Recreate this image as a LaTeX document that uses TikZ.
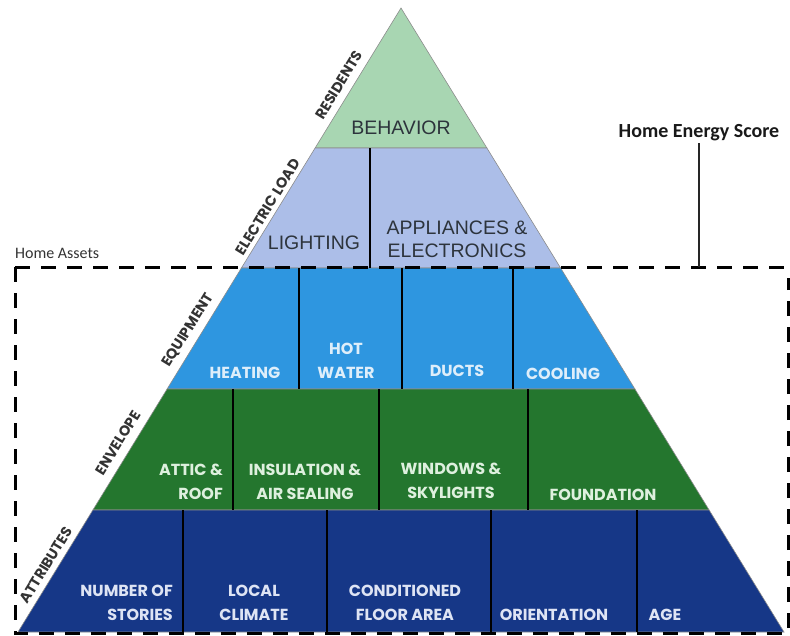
\documentclass[tikz,border=0pt]{standalone}
\usepackage{fontspec}
\setmainfont{Liberation Sans}
\newfontfamily\geofont{Poppins}
\newfontfamily\carlfont{Carlito}
\definecolor{behav}{RGB}{168,214,178}
\definecolor{elec}{RGB}{172,190,232}
\definecolor{equip}{RGB}{46,150,224}
\definecolor{envel}{RGB}{36,118,46}
\definecolor{attr}{RGB}{22,55,135}
\definecolor{equiptxt}{RGB}{222,238,250}
\definecolor{enveltxt}{RGB}{222,240,222}
\definecolor{attrtxt}{RGB}{222,228,244}
\definecolor{darktxt}{RGB}{45,52,60}
\tikzset{
  layer/.style={draw=black!45, line width=0.6pt},
  divider/.style={line width=2.4pt, black},
  dashbox/.style={line width=3pt, black, dash pattern=on 15pt off 11pt},
  toptxt/.style={font=\fontsize{19.5}{22.5}\selectfont, text=darktxt, inner sep=0pt, align=center},
  lbl/.style={font=\geofont\bfseries\fontsize{16}{23.5}\selectfont, inner sep=0pt, align=center},
  eqlbl/.style={lbl, text=equiptxt},
  envlbl/.style={lbl, text=enveltxt},
  atlbl/.style={lbl, text=attrtxt},
  sidelbl/.style={font=\geofont\bfseries\fontsize{14.5}{17}\selectfont, text=black!80, rotate=58.45, inner sep=0pt},
}
\begin{document}
\begin{tikzpicture}[x=1pt, y=-1pt]
\useasboundingbox (0,0) rectangle (790,635);
% pyramid layers
\filldraw[layer, fill=behav] (401,8) -- (486.9,148) -- (315.1,148) -- cycle;
\filldraw[layer, fill=elec] (315.1,148) -- (486.9,148) -- (560.6,268) -- (241.4,268) -- cycle;
\filldraw[layer, fill=equip] (241.4,268) -- (560.6,268) -- (634.9,389) -- (167.1,389) -- cycle;
\filldraw[layer, fill=envel] (167.1,389) -- (634.9,389) -- (709.1,510) -- (92.9,510) -- cycle;
\filldraw[layer, fill=attr] (92.9,510) -- (709.1,510) -- (784,632) -- (18,632) -- cycle;
% dividers
\draw[divider] (370,148) -- (370,268);
\draw[divider] (299,268) -- (299,389);
\draw[divider] (402,268) -- (402,389);
\draw[divider] (513,268) -- (513,389);
\draw[divider] (233,389) -- (233,510);
\draw[divider] (379,389) -- (379,510);
\draw[divider] (528,389) -- (528,510);
\draw[divider] (183,510) -- (183,632);
\draw[divider] (327,510) -- (327,632);
\draw[divider] (491,510) -- (491,632);
\draw[divider] (637,510) -- (637,632);
% dashed home assets box
\draw[dashbox] (15,267) -- (790,267);
\draw[dashbox] (15,267) -- (15,633) -- (788,633) -- (788,278);
% texts
\node[toptxt] (behavior) at (401,128) {BEHAVIOR};
\node[toptxt] (lighting) at (314,243) {LIGHTING};
\node[toptxt, text depth=0pt] (appl) at (457,239) {APPLIANCES \&\\ELECTRONICS};
\node[eqlbl] (heating) at (245,373) {HEATING};
\node[eqlbl] (hotwater) at (346,361) {HOT\\WATER};
\node[eqlbl] (ducts) at (457,371) {DUCTS};
\node[eqlbl] (cooling) at (563,374) {COOLING};
\node[envlbl, align=right, anchor=east] (attic) at (223,482) {ATTIC \&\\ROOF};
\node[envlbl] (insul) at (305,482) {INSULATION \&\\AIR SEALING};
\node[envlbl] (windows) at (451,481) {WINDOWS \&\\SKYLIGHTS};
\node[envlbl] (found) at (603,495) {FOUNDATION};
\node[atlbl, align=right, anchor=east] (stories) at (173,603) {NUMBER OF\\STORIES};
\node[atlbl] (climate) at (254,603) {LOCAL\\CLIMATE};
\node[atlbl] (floor) at (405,603) {CONDITIONED\\FLOOR AREA};
\node[atlbl] (orient) at (554,615) {ORIENTATION};
\node[atlbl] (age) at (665,615) {AGE};
% side labels
\node[sidelbl] (residents) at (339,85) {RESIDENTS};
\node[sidelbl] (electric) at (268,207) {ELECTRIC LOAD};
\node[sidelbl] (equipment) at (188,330) {EQUIPMENT};
\node[sidelbl] (envelope) at (118,443) {ENVELOPE};
\node[sidelbl] (attributes) at (46,565) {ATTRIBUTES};
% home labels
\node[font=\carlfont\fontsize{16}{18}\selectfont, text=black!80, anchor=west, inner sep=0pt] (assets) at (15,253) {Home Assets};
\node[font=\carlfont\bfseries\fontsize{20}{22}\selectfont, text=black!90, inner sep=2pt] (hes) at (699,133) {Home Energy Score};
\coordinate (hesfoot) at (699,267);
\draw[line width=2pt, black!85] (hes.south) -- (hesfoot);
\end{tikzpicture}
\end{document}
